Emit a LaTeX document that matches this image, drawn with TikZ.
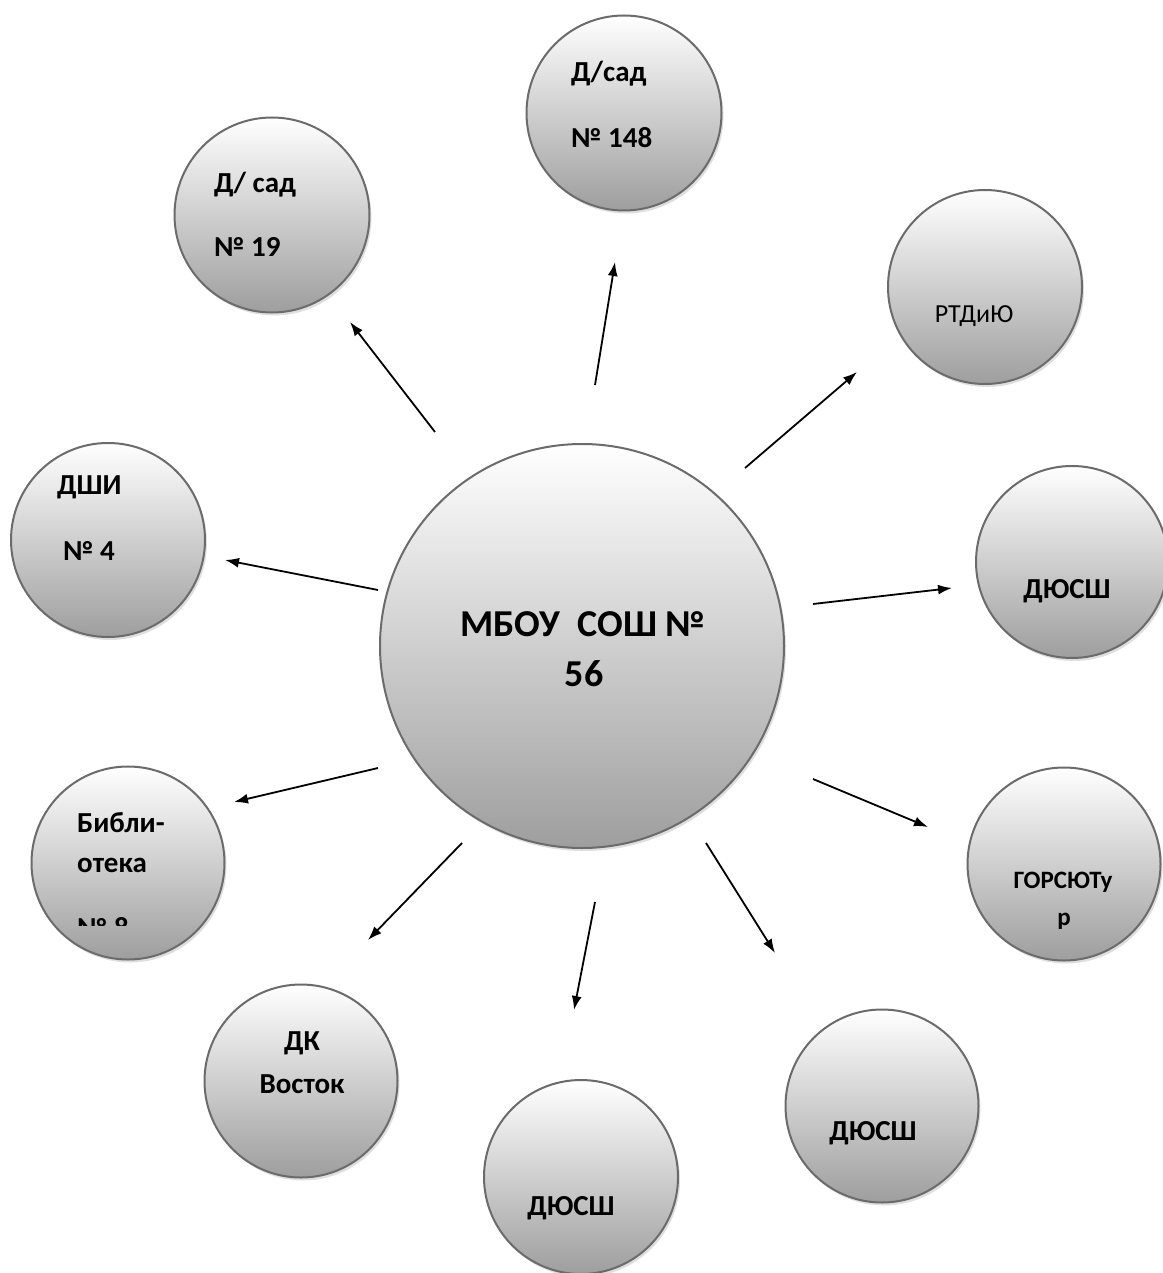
\documentclass[tikz,border=0pt]{standalone}
\usepackage{fontspec}
\setmainfont{Carlito}
\usetikzlibrary{arrows.meta, shadows}

\tikzset{
  bubble/.style={circle, inner sep=0pt, draw=black!58, line width=2pt,
    top color=white, bottom color=black!38,
    drop shadow={shadow xshift=2pt, shadow yshift=-3pt, fill=black!25}},
  txt/.style={inner sep=0pt, font=\bfseries\fontsize{29}{32}\selectfont},
  bigtxt/.style={inner sep=0pt, font=\bfseries\fontsize{38}{42}\selectfont},
}

\begin{document}
\begin{tikzpicture}[x=1pt, y=-1pt, >={Latex[length=14pt,width=10pt]}]
\useasboundingbox (0,0) rectangle (1162,1273);
% circles
\node[bubble, minimum size=404pt] (MBOU) at (582,646) {};
\node[bubble, minimum size=195pt] (Sad148) at (624,113) {};
\node[bubble, minimum size=195pt] (Sad19) at (272,215) {};
\node[bubble, minimum size=194pt] (RTDiU) at (985,287) {};
\node[bubble, minimum size=192pt] (DUSSH_1) at (1072,562) {};
\node[bubble, minimum size=194pt] (DSHI) at (108,540) {};
\node[bubble, minimum size=193pt] (Bibl) at (128,863) {};
\node[bubble, minimum size=193pt] (DK) at (301,1081) {};
\node[bubble, minimum size=194pt] (DUSSH_2) at (581,1177) {};
\node[bubble, minimum size=193pt] (DUSSH_3) at (882,1106) {};
\node[bubble, minimum size=193pt] (GORS) at (1064,864) {};
% texts
\node[bigtxt, anchor=base] (MBOU_1) at (583,636) {МБОУ~~СОШ~№};
\node[bigtxt, anchor=base] (MBOU_2) at (584,686) {56};
\node[txt, anchor=base west] (Sad148_1) at (571,82) {Д/сад};
\node[txt, anchor=base west] (Sad148_2) at (571,148) {№ 148};
\node[txt, anchor=base west] (Sad19_1) at (214,193) {Д/ сад};
\node[txt, anchor=base west] (Sad19_2) at (214,256) {№ 19};
\node[inner sep=0pt, anchor=base, font=\fontsize{26}{30}\selectfont] (RTDiU_1) at (974,322) {РТДиЮ};
\node[txt, anchor=base] (DUSSH_1t) at (1067,598) {ДЮСШ};
\node[txt, anchor=base west] (DSHI_1) at (57,494) {ДШИ};
\node[txt, anchor=base west] (DSHI_2) at (63,560) {№ 4};
\node[txt, anchor=base west] (Bibl_1) at (77,832) {Библи-};
\node[txt, anchor=base west] (Bibl_2) at (77,872) {отека};
\begin{scope}
  \clip (0,0) rectangle (1162,925);
  \node[txt, anchor=base west] (Bibl_3) at (77,937) {№ 8};
\end{scope}
\node[txt, anchor=base] (DK_1) at (302,1050) {ДК};
\node[txt, anchor=base] (DK_2) at (302,1093) {Восток};
\node[txt, anchor=base] (DUSSH_2t) at (571,1215) {ДЮСШ};
\node[txt, anchor=base] (DUSSH_3t) at (873,1140) {ДЮСШ};
\node[inner sep=0pt, anchor=base, font=\bfseries\fontsize{25}{28}\selectfont] (GORS_1) at (1063,888) {ГОРСЮТу};
\node[inner sep=0pt, anchor=base, font=\bfseries\fontsize{25}{28}\selectfont] (GORS_2) at (1064,925) {р};
% arrows
\foreach \i/\sx/\sy/\ex/\ey in {1/435/432/350/322, 2/595/385/615/262, 3/745/468/857/372,
    4/813/604/952/588, 5/378/590/225/560, 6/378/768/234/802, 7/462/843/368/940,
    8/595/902/574/1010, 9/706/843/775/953, 10/813/779/928/827}{
  \coordinate (S_\i) at (\sx,\sy);
  \coordinate (E_\i) at (\ex,\ey);
  \draw[->, line width=1.8pt] (S_\i) -- (E_\i);
}
\end{tikzpicture}
\end{document}
